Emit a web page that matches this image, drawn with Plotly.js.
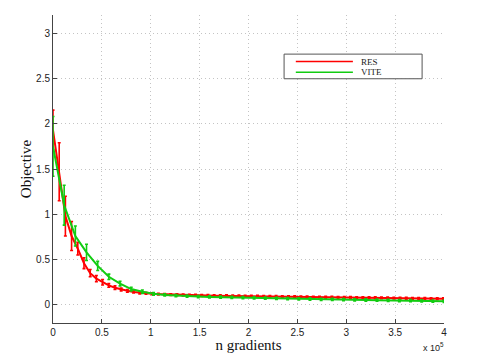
<!DOCTYPE html>
<html>
<head>
<meta charset="utf-8">
<script src="https://cdn.plot.ly/plotly-3.0.1.min.js"></script>
<style>
  html, body { margin: 0; padding: 0; background: #fff; }
  #plot { width: 479px; height: 353px; }
</style>
</head>
<body>
<div id="plot"></div>
<script>
// RES: one point every ~6340 gradients
const resX = [0, 6340, 12680, 19020, 25360, 31700, 38040, 44380, 50720, 57060,
    63400, 69740, 76080, 82420, 88760, 95100, 101440, 107780, 114120, 120460,
    126800, 133140, 139480, 145820, 152160, 158500, 164840, 171180, 177520, 183860,
    190200, 196540, 202880, 209220, 215560, 221900, 228240, 234580, 240920, 247260,
    253600, 259940, 266280, 272620, 278960, 285300, 291640, 297980, 304320, 310660,
    317000, 323340, 329680, 336020, 342360, 348700, 355040, 361380, 367720, 374060,
    380400, 386740, 393080, 399420];
const resY = [1.93, 1.47, 0.98, 0.76, 0.62, 0.46, 0.35, 0.29, 0.25, 0.215,
    0.19, 0.17, 0.155, 0.143, 0.134, 0.128, 0.123, 0.119, 0.116, 0.113,
    0.111, 0.109, 0.107, 0.106, 0.104, 0.103, 0.102, 0.101, 0.100, 0.099,
    0.098, 0.097, 0.096, 0.095, 0.094, 0.093, 0.092, 0.091, 0.090, 0.089,
    0.088, 0.087, 0.086, 0.086, 0.085, 0.084, 0.083, 0.082, 0.081, 0.080,
    0.079, 0.078, 0.078, 0.077, 0.076, 0.075, 0.074, 0.073, 0.072, 0.071,
    0.070, 0.069, 0.068, 0.067];
const resErr = [0.22, 0.32, 0.22, 0.16, 0.07, 0.06, 0.04, 0.035, 0.03, 0.02,
    0.02, 0.015, 0.015, 0.012, 0.012, 0.01, 0.01, 0.01, 0.01, 0.01,
    0.01, 0.01, 0.01, 0.01, 0.01, 0.01, 0.01, 0.01, 0.01, 0.01,
    0.01, 0.01, 0.01, 0.01, 0.01, 0.01, 0.01, 0.01, 0.01, 0.01,
    0.01, 0.01, 0.01, 0.01, 0.01, 0.01, 0.01, 0.01, 0.01, 0.01,
    0.01, 0.01, 0.01, 0.01, 0.01, 0.01, 0.01, 0.01, 0.01, 0.01,
    0.01, 0.01, 0.01, 0.01];

// VITE: one point every ~11430 gradients
const viteX = [0, 11430, 22860, 34290, 45720, 57150, 68580, 80010, 91440, 102870,
    114300, 125730, 137160, 148590, 160020, 171450, 182880, 194310, 205740, 217170,
    228600, 240030, 251460, 262890, 274320, 285750, 297180, 308610, 320040, 331470,
    342900, 354330, 365760, 377190, 388620, 400050];
const viteY = [1.75, 1.10, 0.76, 0.58, 0.43, 0.31, 0.235, 0.175, 0.145, 0.122,
    0.110, 0.102, 0.097, 0.092, 0.088, 0.085, 0.082, 0.079, 0.077, 0.074,
    0.072, 0.069, 0.067, 0.065, 0.062, 0.060, 0.058, 0.056, 0.054, 0.052,
    0.050, 0.048, 0.046, 0.044, 0.042, 0.040];
const viteErr = [0.33, 0.22, 0.11, 0.09, 0.05, 0.03, 0.025, 0.02, 0.02, 0.015,
    0.012, 0.012, 0.012, 0.012, 0.012, 0.012, 0.012, 0.012, 0.012, 0.012,
    0.012, 0.012, 0.012, 0.012, 0.012, 0.012, 0.012, 0.012, 0.012, 0.012,
    0.012, 0.012, 0.012, 0.012, 0.012, 0.012];

const xTicks = [0, 50000, 100000, 150000, 200000, 250000, 300000, 350000, 400000];
const xTickText = ["0", "0.5", "1", "1.5", "2", "2.5", "3", "3.5", "4"];

const serif = "Liberation Serif, Times New Roman, serif";
const sans = "Liberation Sans, Arial, sans-serif";
const red = "#ff0000";
const green = "#11cc11";

const traces = [
    {
        x: resX, y: resY, name: "RES", type: "scatter", mode: "lines",
        line: { color: red, width: 2 },
        error_y: { type: "data", array: resErr, color: red, thickness: 1.6, width: 1.5 }
    },
    {
        x: viteX, y: viteY, name: "VITE", type: "scatter", mode: "lines",
        line: { color: green, width: 2 },
        error_y: { type: "data", array: viteErr, color: green, thickness: 1.6, width: 1.5 }
    }
];

// compact MATLAB-style legend box drawn in paper coordinates
const legendRows = [0.849, 0.814];
const legendShapes = [
    { type: "rect", xref: "paper", yref: "paper", x0: 0.591, x1: 0.944, y0: 0.793, y1: 0.873,
      line: { color: "#555", width: 1 }, fillcolor: "#fff", layer: "above" }
].concat(traces.map((t, i) => ({
    type: "line", xref: "paper", yref: "paper", x0: 0.621, x1: 0.767,
    y0: legendRows[i], y1: legendRows[i],
    line: { color: t.line.color, width: 1.5 }, layer: "above"
})));
const legendText = traces.map((t, i) => ({
    xref: "paper", yref: "paper", x: 0.783, y: legendRows[i],
    xanchor: "left", yanchor: "middle", showarrow: false,
    text: t.name, font: { family: serif, size: 9, color: "#222" }
}));

const layout = {
    width: 479, height: 353,
    margin: { l: 53, r: 35, t: 15, b: 30 },
    paper_bgcolor: "#fff",
    plot_bgcolor: "#fff",
    showlegend: false,
    xaxis: {
        range: [0, 400000],
        tickvals: xTicks, ticktext: xTickText,
        ticks: "inside", ticklen: 4, tickcolor: "#444",
        showline: true, linecolor: "#444", linewidth: 1,
        showgrid: true, gridcolor: "#c4c4c4", griddash: "1px,3px", gridwidth: 1,
        zeroline: false,
        tickfont: { family: sans, size: 10, color: "#222" },
        title: { text: "n gradients", font: { family: serif, size: 15, color: "#111" }, standoff: 4 }
    },
    yaxis: {
        range: [-0.2, 3.2],
        dtick: 0.5, tick0: 0,
        ticks: "inside", ticklen: 4, tickcolor: "#444",
        showline: true, linecolor: "#444", linewidth: 1,
        showgrid: true, gridcolor: "#c4c4c4", griddash: "1px,3px", gridwidth: 1,
        zeroline: false,
        tickfont: { family: sans, size: 10, color: "#222" },
        title: { text: "Objective", font: { family: serif, size: 15, color: "#111" }, standoff: 0 }
    },
    shapes: legendShapes,
    annotations: legendText.concat([{
        xref: "paper", yref: "paper", x: 1.0, y: 0, yshift: -16, xshift: 2,
        xanchor: "right", yanchor: "top", showarrow: false,
        text: "x 10<sup>5</sup>",
        font: { family: sans, size: 9, color: "#222" }
    }])
};

Plotly.newPlot("plot", traces, layout, { displayModeBar: false, staticPlot: true });
</script>
</body>
</html>
